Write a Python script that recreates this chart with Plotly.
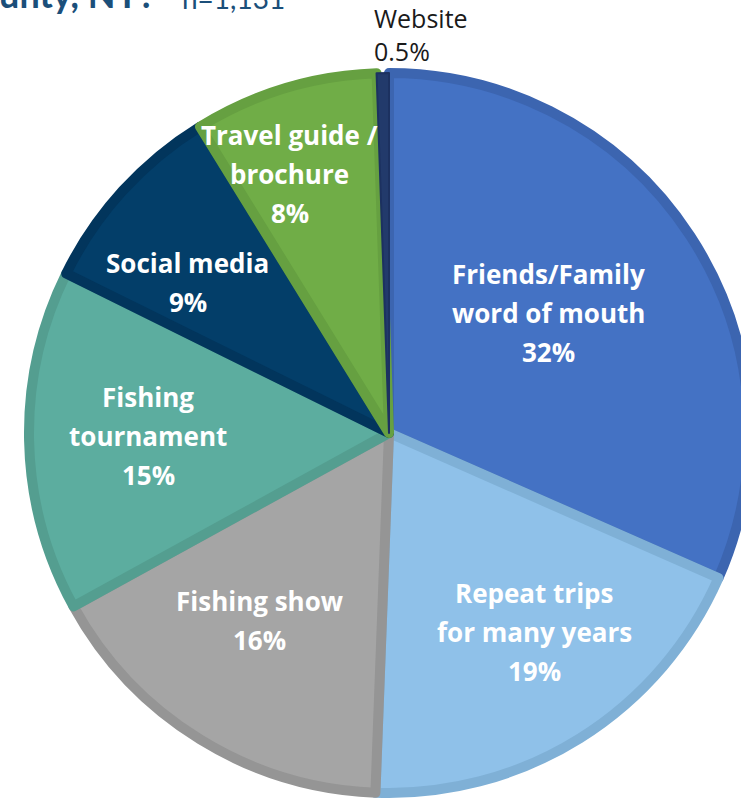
import math
import plotly.graph_objects as go

# ---------------- data ----------------
categories = ["Friends/Family word of mouth", "Repeat trips for many years", "Fishing show",
              "Fishing tournament", "Social media", "Travel guide / brochure", "Website"]
shares = [31.6, 19.0, 16.4, 15.3, 8.9, 8.25, 0.55]
label_lines = [["Friends/Family", "word of mouth", "32%"],
               ["Repeat trips", "for many years", "19%"],
               ["Fishing show", "16%"],
               ["Fishing", "tournament", "15%"],
               ["Social media", "9%"],
               ["Travel guide /", "brochure", "8%"],
               ["Website", "0.5%"]]
title_main = "County, NY?"
title_n = "n=1,131"

# ---------------- styles ----------------
fill_colors = ["#4472C4", "#8FC1E9", "#A5A5A5", "#5CAD9F", "#033E69", "#70AD47", "#223A6B"]
border_colors = ["#3C65B0", "#7FB0D6", "#959595", "#549E90", "#02355C", "#66A041", "#1C3160"]
border_widths = [10, 10, 10, 10, 10, 10, 2]
label_dtheta = [-3.9, -4.1, 3.1, 0.6, -5.4, -4.1, -1.4]
label_rfrac = [0.546, 0.675, 0.624, 0.660, 0.689, 0.760, 1.094]
LABEL_FONT = "Open Sans"
LABEL_SIZE = 26
LINE_GAP = 39

FW, FH = 760, 799
CX, CY = 389, 433
R_OUT = 365
STROKE = 10
R = R_OUT - STROKE // 2
ml = CX - R
mt = CY - R
mr = FW - ml - 2 * R
mb = FH - mt - 2 * R


def to_paper(px, py):
    return (px - ml) / (2 * R), 1 - (py - mt) / (2 * R)


fig = go.Figure()
fig.add_trace(go.Pie(
    values=shares, labels=categories, sort=False, direction="clockwise", rotation=0,
    textinfo="none", hoverinfo="label+percent", showlegend=False,
    marker=dict(colors=fill_colors, line=dict(color=border_colors, width=border_widths)),
    domain=dict(x=[0, 1], y=[0, 1]),
))

# labels positioned from slice mid-angles
total = sum(shares)
cum = 0
annotations = []
for i, v in enumerate(shares):
    mid = (cum + v / 2) / total * 360
    cum += v
    th = math.radians(mid + label_dtheta[i])
    r = label_rfrac[i] * R_OUT
    bx = CX + r * math.sin(th)
    by = CY - r * math.cos(th)
    lines = label_lines[i]
    n = len(lines)
    if i == len(shares) - 1:
        # small slice: label outside, left-aligned block
        x, y = to_paper(bx, by)
        annotations.append(dict(x=x, y=y, xref="paper", yref="paper", text="<br>".join(lines),
                                showarrow=False, xanchor="left", yanchor="middle", align="left",
                                font=dict(family=LABEL_FONT, size=25, color="#1A1A1A")))
        continue
    for k, line in enumerate(lines):
        ly = by + (k - (n - 1) / 2) * LINE_GAP
        x, y = to_paper(bx, ly)
        annotations.append(dict(x=x, y=y, xref="paper", yref="paper", text="<b>" + line + "</b>",
                                showarrow=False, xanchor="center", yanchor="middle",
                                font=dict(family=LABEL_FONT, size=LABEL_SIZE, color="white")))

# partially visible title at top-left (cut by the top edge, as in the source)
tx, ty = to_paper(157, 18)
annotations.append(dict(x=tx, y=ty, xref="paper", yref="paper", text="<b>" + title_main + "</b>",
                        showarrow=False, xanchor="right", yanchor="bottom",
                        font=dict(family="Lato", size=36, color="#1B4F7A")))
nx, ny = to_paper(180, 17)
annotations.append(dict(x=nx, y=ny, xref="paper", yref="paper", text=title_n,
                        showarrow=False, xanchor="left", yanchor="bottom",
                        font=dict(family="Lato", size=28, color="#1B4F7A")))

fig.update_layout(
    width=FW, height=FH, autosize=False,
    margin=dict(l=ml, r=mr, t=mt, b=mb, pad=0),
    paper_bgcolor="white", plot_bgcolor="white",
    annotations=annotations,
)

fig.write_html("out.html", config={"displayModeBar": False},
               post_script="document.body.style.margin='0';"
                           "document.body.style.overflow='hidden';"
                           "document.documentElement.style.overflow='hidden';")
